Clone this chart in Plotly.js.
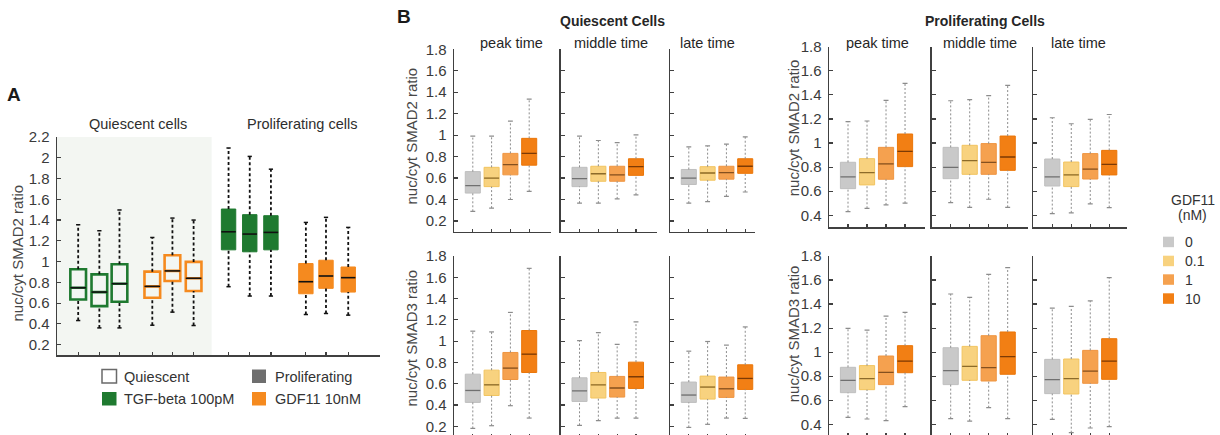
<!DOCTYPE html>
<html>
<head>
<meta charset="utf-8">
<script src="https://cdn.plot.ly/plotly-3.0.1.min.js"></script>
<style>
  html, body { margin: 0; padding: 0; height: 435px; overflow: hidden; background: #ffffff; }
  #fig { width: 1220px; height: 440px; }
</style>
</head>
<body>
<div id="fig"></div>
<script>
// ---------- Panel A: nuc/cyt SMAD2 ratio, TGF-beta vs GDF11 ----------
const stateA  = ['Quiescent', 'Quiescent', 'Quiescent', 'Quiescent', 'Quiescent', 'Quiescent',
                 'Proliferating', 'Proliferating', 'Proliferating', 'Proliferating', 'Proliferating', 'Proliferating'];
const ligandA = ['TGF-beta 100pM', 'TGF-beta 100pM', 'TGF-beta 100pM', 'GDF11 10nM', 'GDF11 10nM', 'GDF11 10nM',
                 'TGF-beta 100pM', 'TGF-beta 100pM', 'TGF-beta 100pM', 'GDF11 10nM', 'GDF11 10nM', 'GDF11 10nM'];
const posA = [1, 2, 2.95, 4.5, 5.45, 6.45, 8.1, 9.1, 10.1, 11.75, 12.7, 13.75];
const loA  = [0.432, 0.361, 0.361, 0.387, 0.513, 0.384, 0.758, 0.668, 0.668, 0.490, 0.500, 0.484];
const q1A  = [0.635, 0.571, 0.613, 0.652, 0.813, 0.716, 1.113, 1.094, 1.113, 0.690, 0.742, 0.706];
const medA = [0.748, 0.706, 0.787, 0.761, 0.910, 0.839, 1.287, 1.265, 1.281, 0.806, 0.861, 0.845];
const q3A  = [0.926, 0.877, 0.974, 0.903, 1.061, 0.997, 1.506, 1.452, 1.442, 0.981, 1.013, 0.948];
const hiA  = [1.355, 1.297, 1.497, 1.232, 1.419, 1.400, 2.094, 2.013, 1.890, 1.377, 1.426, 1.329];

// ---------- Panel B: GDF11 dose series at three time points ----------
const doses = ['0', '0.1', '1', '10'];
const times = ['peak time', 'middle time', 'late time'];

// Quiescent cells, SMAD2 (rows: peak, middle, late; columns: doses)
const qS2_lo  = [[0.29, 0.32, 0.40, 0.475], [0.366, 0.366, 0.406, 0.444], [0.366, 0.38, 0.43, 0.47]];
const qS2_q1  = [[0.46, 0.52, 0.63, 0.72],  [0.52, 0.57, 0.57, 0.625],    [0.54, 0.58, 0.59, 0.644]];
const qS2_med = [[0.53, 0.60, 0.725, 0.83], [0.594, 0.64, 0.63, 0.706],   [0.60, 0.647, 0.65, 0.71]];
const qS2_q3  = [[0.66, 0.70, 0.83, 0.97],  [0.70, 0.71, 0.71, 0.78],     [0.68, 0.706, 0.71, 0.78]];
const qS2_hi  = [[0.99, 0.99, 1.13, 1.335], [0.99, 0.95, 0.93, 1.003],    [0.89, 0.90, 0.916, 0.984]];

// Quiescent cells, SMAD3
const qS3_lo  = [[0.181, 0.206, 0.394, 0.278], [0.21, 0.253, 0.278, 0.278],   [0.19, 0.219, 0.278, 0.275]];
const qS3_q1  = [[0.425, 0.49, 0.64, 0.706],   [0.434, 0.466, 0.475, 0.556],  [0.425, 0.456, 0.472, 0.547]];
const qS3_med = [[0.537, 0.59, 0.747, 0.878],  [0.534, 0.59, 0.56, 0.666],    [0.494, 0.569, 0.553, 0.65]];
const qS3_q3  = [[0.69, 0.728, 0.894, 1.10],   [0.656, 0.706, 0.669, 0.803],  [0.616, 0.672, 0.663, 0.778]];
const qS3_hi  = [[1.094, 1.087, 1.27, 1.684],  [1.006, 1.081, 0.97, 1.181],   [0.906, 0.997, 0.963, 1.134]];

// Proliferating cells, SMAD2
const pS2_lo  = [[0.43, 0.458, 0.486, 0.50],   [0.505, 0.466, 0.533, 0.466], [0.414, 0.42, 0.494, 0.464]];
const pS2_q1  = [[0.621, 0.652, 0.699, 0.804], [0.704, 0.74, 0.74, 0.773],   [0.643, 0.638, 0.701, 0.735]];
const pS2_med = [[0.718, 0.754, 0.826, 0.93],  [0.798, 0.854, 0.84, 0.884],  [0.718, 0.735, 0.784, 0.823]];
const pS2_q3  = [[0.84, 0.87, 0.964, 1.075],   [0.964, 0.981, 0.995, 1.058], [0.867, 0.842, 0.912, 0.939]];
const pS2_hi  = [[1.177, 1.183, 1.354, 1.495], [1.351, 1.36, 1.393, 1.478],  [1.21, 1.16, 1.196, 1.237]];

// Proliferating cells, SMAD3
const pS3_lo  = [[0.458, 0.444, 0.43, 0.547],  [0.447, 0.427, 0.538, 0.447], [0.441, 0.33, 0.369, 0.38]];
const pS3_q1  = [[0.663, 0.688, 0.73, 0.829],  [0.73, 0.766, 0.76, 0.816],   [0.655, 0.652, 0.741, 0.774]];
const pS3_med = [[0.766, 0.78, 0.832, 0.926],  [0.846, 0.882, 0.871, 0.963], [0.771, 0.78, 0.843, 0.926]];
const pS3_q3  = [[0.874, 0.888, 0.968, 1.054], [1.037, 1.048, 1.137, 1.168], [0.94, 0.943, 1.015, 1.112]];
const pS3_hi  = [[1.198, 1.184, 1.30, 1.331],  [1.484, 1.456, 1.647, 1.703], [1.367, 1.381, 1.426, 1.62]];

// ---------- styling ----------
const W = 1220, H = 440;
const fx = px => px / W;
const fy = px => 1 - px / H;
const FONT = 'Liberation Sans, Arial, Helvetica, sans-serif';
const INK = '#3a3a3a';
const AXIS = '#404040';

const GREEN = '#1f7a30';
const ORANGE = '#f58a1f';
const ligandColor = { 'TGF-beta 100pM': GREEN, 'GDF11 10nM': ORANGE };

const doseFill   = ['#c9c9c9', '#f8d27f', '#f5a14f', '#f27f14'];
const doseEdge   = ['#bfbfbf', '#f2c45f', '#ef9541', '#eb7608'];
const doseMedian = ['#707070', '#8c6b2a', '#84501f', '#7c3a05'];

const data = [];
const layout = {
  width: W, height: H,
  margin: { l: 0, r: 0, t: 0, b: 0 },
  paper_bgcolor: '#ffffff',
  plot_bgcolor: 'rgba(0,0,0,0)',
  showlegend: false,
  font: { family: FONT, color: INK, size: 14 },
  shapes: [],
  annotations: []
};

function baseAxis(extra) {
  return Object.assign({
    showline: true, linecolor: AXIS, linewidth: 1.5,
    ticks: 'inside', ticklen: 4, tickwidth: 1.2, tickcolor: AXIS,
    showgrid: false, zeroline: false, fixedrange: true,
    tickfont: { family: FONT, size: 15, color: INK },
    ticklabelstandoff: 3
  }, extra);
}

function addText(text, px, py, opts) {
  layout.annotations.push(Object.assign({
    text: text, xref: 'paper', yref: 'paper', x: fx(px), y: fy(py),
    showarrow: false, xanchor: 'center', yanchor: 'middle',
    font: { family: FONT, size: 14, color: '#262626' }
  }, opts || {}));
}

// one box: body from the box trace, whiskers/caps/median as line traces
function addBox(xa, ya, p, lo, q1, med, q3, hi, st) {
  const half = st.width / 2;
  data.push({
    type: 'scatter', mode: 'lines', xaxis: xa, yaxis: ya, hoverinfo: 'skip',
    x: [p, p, null, p, p], y: [lo, q1, null, q3, hi],
    line: { color: st.whisker, width: st.whiskerWidth, dash: st.dash }
  });
  data.push({
    type: 'scatter', mode: 'lines', xaxis: xa, yaxis: ya, hoverinfo: 'skip',
    x: [p - st.cap, p + st.cap, null, p - st.cap, p + st.cap], y: [lo, lo, null, hi, hi],
    line: { color: st.whisker, width: st.capWidth }
  });
  data.push({
    type: 'box', orientation: 'v', xaxis: xa, yaxis: ya, hoverinfo: 'skip',
    x: [p], q1: [q1], median: [med], q3: [q3], lowerfence: [q1], upperfence: [q3],
    width: st.width, whiskerwidth: 0, boxpoints: false,
    fillcolor: st.fill, line: { color: st.edge, width: st.edgeWidth }
  });
  data.push({
    type: 'scatter', mode: 'lines', xaxis: xa, yaxis: ya, hoverinfo: 'skip',
    x: [p - half, p + half], y: [med, med],
    line: { color: st.median, width: st.medianWidth }
  });
}

// ---------- Panel A ----------
layout.xaxis = baseAxis({
  domain: [fx(57), fx(380)], anchor: 'y', range: [0, 15.25],
  tickmode: 'array', tickvals: posA, showticklabels: false, ticklen: 3
});
layout.yaxis = baseAxis({
  domain: [fy(355), fy(137)], anchor: 'x', range: [0.1, 2.2],
  tickmode: 'linear', tick0: 0.2, dtick: 0.2
});
// light backdrop behind the quiescent group
layout.shapes.push({
  type: 'rect', layer: 'below', xref: 'x', yref: 'y domain',
  x0: 0, x1: 7.3, y0: 0, y1: 1, line: { width: 0 }, fillcolor: '#f3f6f2'
});

posA.forEach((p, i) => {
  const col = ligandColor[ligandA[i]];
  const hollow = stateA[i] === 'Quiescent';
  addBox('x', 'y', p, loA[i], q1A[i], medA[i], q3A[i], hiA[i], {
    width: hollow ? 0.74 : 0.68,
    fill: hollow ? 'rgba(0,0,0,0)' : col,
    edge: col, edgeWidth: hollow ? 2.6 : 1,
    median: '#111111', medianWidth: 1.6,
    whisker: '#111111', whiskerWidth: 1.8, dash: '3px,2.5px',
    cap: 0.1, capWidth: 1.5
  });
});

addText('<b>A</b>', 14, 94, { font: { family: FONT, size: 19, color: '#1a1a1a' } });
addText('Quiescent cells', 137.5, 123.5, { font: { family: FONT, size: 14.5, color: '#2e2e2e' } });
addText('Proliferating cells', 302, 123.5, { font: { family: FONT, size: 14.5, color: '#2e2e2e' } });
addText('nuc/cyt SMAD2 ratio', 17.5, 253, { textangle: -90, font: { family: FONT, size: 15, color: '#474747' } });

// panel A key
layout.shapes.push(
  { type: 'rect', xref: 'paper', yref: 'paper', x0: fx(102), x1: fx(116.5), y0: fy(383), y1: fy(369.5),
    line: { color: '#6a6a6a', width: 1.5 }, fillcolor: '#ffffff' },
  { type: 'rect', xref: 'paper', yref: 'paper', x0: fx(252), x1: fx(266), y0: fy(383), y1: fy(369.5),
    line: { width: 0 }, fillcolor: '#6e6e6e' },
  { type: 'rect', xref: 'paper', yref: 'paper', x0: fx(102), x1: fx(116.5), y0: fy(405.5), y1: fy(392),
    line: { width: 0 }, fillcolor: GREEN },
  { type: 'rect', xref: 'paper', yref: 'paper', x0: fx(252), x1: fx(266), y0: fy(405.5), y1: fy(392),
    line: { width: 0 }, fillcolor: ORANGE }
);
const keyFont = { family: FONT, size: 14.5, color: '#333333' };
addText('Quiescent', 121.5, 376.5, { xanchor: 'left', font: keyFont });
addText('Proliferating', 272.5, 376.5, { xanchor: 'left', font: keyFont });
addText('TGF-beta 100pM', 121.5, 399, { xanchor: 'left', font: keyFont });
addText('GDF11 10nM', 272.5, 399, { xanchor: 'left', font: keyFont });

// ---------- Panel B ----------
const Q_X = [[454, 551, 5.16], [560.7, 656.7, 5.1], [670, 755, 4.52]];
const P_X = [[829, 925, 5.05], [931.7, 1028, 5.07], [1033.3, 1126.7, 4.92]];

const panelsB = [
  { lo: qS2_lo, q1: qS2_q1, med: qS2_med, q3: qS2_q3, hi: qS2_hi, yr: [0.1, 1.8], tick0: 0.2, top: 49.3, bottom: 231.7, xs: Q_X },
  { lo: qS3_lo, q1: qS3_q1, med: qS3_med, q3: qS3_q3, hi: qS3_hi, yr: [0.1, 1.8], tick0: 0.2, top: 256, bottom: 437, xs: Q_X },
  { lo: pS2_lo, q1: pS2_q1, med: pS2_med, q3: pS2_q3, hi: pS2_hi, yr: [0.3, 1.8], tick0: 0.4, top: 46.7, bottom: 227.3, xs: P_X },
  { lo: pS3_lo, q1: pS3_q1, med: pS3_med, q3: pS3_q3, hi: pS3_hi, yr: [0.3, 1.8], tick0: 0.4, top: 256, bottom: 436.3, xs: P_X }
];

let axisNo = 2;
panelsB.forEach(pan => {
  times.forEach((t, j) => {
    const n = axisNo++;
    const xa = 'x' + n, ya = 'y' + n;
    const [left, right, xmax] = pan.xs[j];
    const dosePos = doses.map((d, k) => k + 1);
    layout['xaxis' + n] = baseAxis({
      domain: [fx(left), fx(right)], anchor: ya, range: [0, xmax],
      tickmode: 'array', tickvals: dosePos, showticklabels: false, ticklen: 3
    });
    layout['yaxis' + n] = baseAxis({
      domain: [fy(pan.bottom), fy(pan.top)], anchor: xa, range: pan.yr,
      tickmode: 'linear', tick0: pan.tick0, dtick: 0.2, showticklabels: j === 0
    });
    doses.forEach((d, k) => {
      addBox(xa, ya, dosePos[k], pan.lo[j][k], pan.q1[j][k], pan.med[j][k], pan.q3[j][k], pan.hi[j][k], {
        width: 0.8, fill: doseFill[k], edge: doseEdge[k], edgeWidth: 1,
        median: doseMedian[k], medianWidth: 1.3,
        whisker: '#8c8c8c', whiskerWidth: 1, dash: '2px,2px',
        cap: 0.13, capWidth: 1.2
      });
    });
  });
});

addText('<b>B</b>', 404, 17, { font: { family: FONT, size: 19, color: '#1a1a1a' } });
const groupFont = { family: FONT, size: 14, color: '#262626' };
addText('<b>Quiescent Cells</b>', 612, 21.5, { font: groupFont });
addText('<b>Proliferating Cells</b>', 985, 21, { font: groupFont });

const timeFont = { family: FONT, size: 14.5, color: '#262626' };
[[511, 611, 707], [877.5, 980, 1078]].forEach(xsT => {
  times.forEach((t, j) => addText(t, xsT[j], 43, { font: timeFont }));
});

const yTitleFont = { family: FONT, size: 15, color: '#474747' };
addText('nuc/cyt SMAD2 ratio', 410.5, 136, { textangle: -90, font: yTitleFont });
addText('nuc/cyt SMAD3 ratio', 410.5, 338, { textangle: -90, font: yTitleFont });
addText('nuc/cyt SMAD2 ratio', 793.3, 128, { textangle: -90, font: yTitleFont });
addText('nuc/cyt SMAD3 ratio', 793.3, 334, { textangle: -90, font: yTitleFont });

// dose key
const keyB = { family: FONT, size: 14, color: '#333333' };
addText('GDF11', 1192.5, 200, { font: keyB });
addText('(nM)', 1192, 214.5, { font: keyB });
const keyRows = [236.7, 255.7, 274.3, 293.3];
doses.forEach((d, k) => {
  layout.shapes.push({
    type: 'rect', xref: 'paper', yref: 'paper',
    x0: fx(1163), x1: fx(1174), y0: fy(keyRows[k] + 10.5), y1: fy(keyRows[k]),
    line: { width: 0 }, fillcolor: doseFill[k]
  });
  addText(d, 1183, keyRows[k] + 5.3, { xanchor: 'left', font: keyB });
});

Plotly.newPlot('fig', data, layout, { staticPlot: true, displayModeBar: false });
</script>
</body>
</html>
